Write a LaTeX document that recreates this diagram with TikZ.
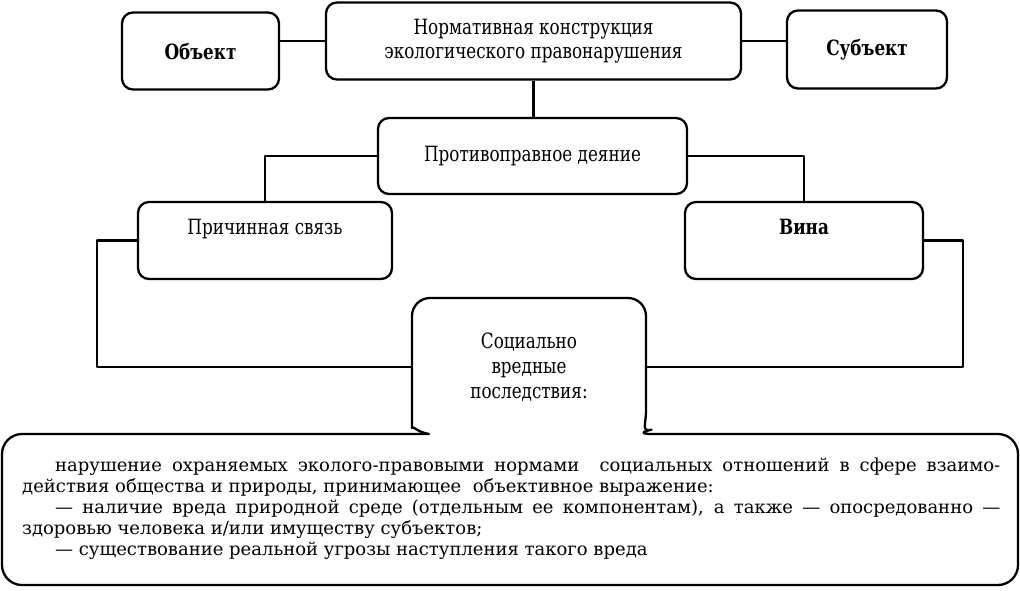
\documentclass[tikz,border=0pt]{standalone}
\usepackage{fontspec}
\setmainfont{DejaVu Serif}
\newfontfamily\boxfont{DejaVu Serif}[FakeStretch=0.8]
\begin{document}
\begin{tikzpicture}[x=1pt,y=-1pt,
  conn/.style={draw,line width=2.3pt,line join=round},
  box/.style={draw,line width=2.3pt,rounded corners=11pt,inner sep=0pt,align=center,
    font=\boxfont\fontsize{21}{24}\selectfont},
  boldbox/.style={box,font=\boxfont\fontsize{21}{24}\selectfont\bfseries},
  topbox/.style={text height=32pt,text depth=45pt}]
\useasboundingbox (0,0) rectangle (1020,590);
\node[boldbox,minimum width=157pt,minimum height=77pt] (obj) at (200.5,51) {Объект};
\node[box,minimum width=415pt,minimum height=77pt] (norm) at (533.5,41) {Нормативная конструкция\\экологического правонарушения};
\node[boldbox,minimum width=160pt,minimum height=78pt] (subj) at (867,49.5) {Субъект};
\node[box,minimum width=309pt,minimum height=76pt] (prot) at (532.5,156) {Противоправное деяние};
\node[box,topbox,minimum width=254pt] (prich) at (265,240.5) {Причинная связь};
\node[boldbox,topbox,minimum width=238pt] (vina) at (804,240.5) {Вина};
\node[inner sep=0pt,minimum width=236pt,minimum height=136pt,align=center,
  font=\boxfont\fontsize{21}{25}\selectfont] (soc) at (529,367) {Социально\\вредные\\последствия:};
% callout outline
\draw[conn] (429,434)
  [rounded corners=20pt] -- (2,434) -- (2,585) -- (1018,585) -- (1018,434) -- (632,434)
  [sharp corners] .. controls (641,432) and (646,425) .. (646,410)
  [rounded corners=18pt] -- (646,298) -- (412,298) -- (412,410)
  [sharp corners] .. controls (412,425) and (417,432) .. (429,434) -- cycle;
\node[inner sep=0pt,anchor=north west,text width=978pt,align=justify,
  font=\fontsize{18}{21}\selectfont] (body) at (22,458)
  {\hspace*{33pt}нарушение охраняемых эколого-правовыми нормами\ \ социальных отношений в~сфере взаимо-\linebreak действия общества и природы, принимающее\ \ объективное выражение:\par
   \hspace*{33pt}— наличие вреда природной среде (отдельным ее компонентам), а также — опосредованно —\linebreak здоровью человека и/или имуществу субъектов;\par
   \hspace*{33pt}— существование реальной угрозы наступления такого вреда\par};
% connectors
\draw[conn] (norm.west) -- (obj.east |- norm.west);
\draw[conn] (norm.east) -- (subj.west |- norm.east);
\draw[conn] (norm.south) -- (norm.south |- prot.north);
\draw[conn] (prot.west) -| (prich.north);
\draw[conn] (prot.east) -| (vina.north);
\draw[conn] (prich.west) -- ++(-40,0) |- (soc.west);
\draw[conn] (vina.east) -- ++(39,0) |- (soc.east);
\end{tikzpicture}
\end{document}
